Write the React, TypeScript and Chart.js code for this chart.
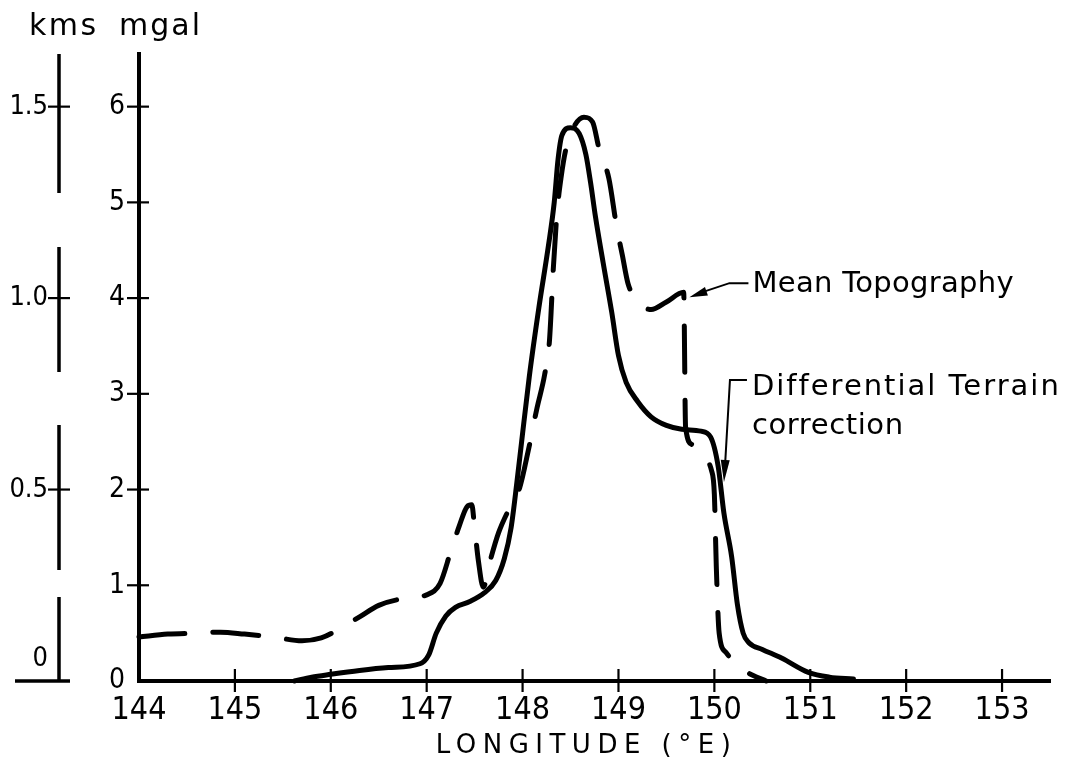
import React, { useEffect, useRef } from "react";
import { Chart, registerables } from "chart.js";

Chart.register(...registerables);

// ---- tick values / labels ----
const LON_TICKS = [144, 145, 146, 147, 148, 149, 150, 151, 152, 153];
const MGAL_TICKS = [0, 1, 2, 3, 4, 5, 6];
const KMS_TICKS = [0, 0.5, 1.0, 1.5];
const KMS_TICK_LABELS = ["0", "0.5", "1.0", "1.5"];
const LON_MIN = 144;
const LON_MAX = 153.5;
const MGAL_MAX = 6.55;
const KMS_PER_MGAL = 0.25;

// ---- Differential Terrain correction (solid) ----
const DTC_LON = [
  145.62, 145.8, 146.0, 146.3, 146.6, 146.93, 147.02, 147.1, 147.2, 147.3,
  147.45, 147.6, 147.72, 147.81, 147.88, 147.94, 147.99, 148.07, 148.17, 148.27,
  148.33, 148.37, 148.41, 148.5, 148.59, 148.66, 148.71, 148.76, 148.84, 148.93,
  149.0, 149.08, 149.2, 149.34, 149.5, 149.66, 149.86, 149.96, 150.04, 150.1,
  150.18, 150.24, 150.3, 150.36, 150.5, 150.7, 150.98, 151.2, 151.45,
];
const DTC_MGAL = [
  0.0, 0.04, 0.07, 0.11, 0.14, 0.18, 0.27, 0.5, 0.68, 0.77,
  0.83, 0.92, 1.05, 1.28, 1.6, 2.07, 2.5, 3.18, 3.9, 4.55,
  5.0, 5.45, 5.7, 5.78, 5.72, 5.5, 5.2, 4.85, 4.37, 3.85,
  3.4, 3.12, 2.92, 2.76, 2.67, 2.63, 2.61, 2.55, 2.24, 1.75,
  1.3, 0.8, 0.5, 0.4, 0.33, 0.24, 0.09, 0.04, 0.02,
];

// ---- Mean Topography (dashed) ----
const TOPO_LON = [
  144.0, 144.3, 144.6, 144.85, 145.1, 145.4, 145.7, 145.9, 146.1, 146.3,
  146.5, 146.75, 147.0, 147.14, 147.25, 147.34, 147.42, 147.47, 147.5, 147.54,
  147.59, 147.66, 147.75, 147.86, 147.97, 148.06, 148.15, 148.23, 148.28, 148.32,
  148.36, 148.4, 148.45, 148.53, 148.64, 148.73, 148.8, 148.9, 148.98, 149.04,
  149.1, 149.2, 149.34, 149.5, 149.68, 149.7, 149.77, 149.88, 149.97, 150.0,
  150.02, 150.05, 150.12, 150.25, 150.4, 150.54,
];
const TOPO_MGAL = [
  0.46, 0.49, 0.5, 0.51, 0.49, 0.46, 0.42, 0.45, 0.55, 0.67,
  0.79, 0.86, 0.9, 1.02, 1.35, 1.62, 1.82, 1.84, 1.6, 1.25,
  0.98, 1.25, 1.55, 1.8, 2.02, 2.41, 2.85, 3.2, 3.55, 4.3,
  4.9, 5.25, 5.55, 5.78, 5.89, 5.84, 5.55, 5.25, 4.75, 4.45,
  4.15, 3.97, 3.88, 3.96, 4.06, 2.65, 2.47, 2.33, 2.2, 1.95,
  1.2, 0.5, 0.3, 0.15, 0.06, 0.0,
];

const KMS_AXIS_DASH = [139, 54, 125, 53, 145, 27, 83, 60];
const TICK_FONT = "'DejaVu Sans Condensed', 'DejaVu Sans', sans-serif";
const TEXT_FONT = "'DejaVu Sans', sans-serif";

function line(ctx: CanvasRenderingContext2D, x1: number, y1: number, x2: number, y2: number) {
  ctx.beginPath();
  ctx.moveTo(x1, y1);
  ctx.lineTo(x2, y2);
  ctx.stroke();
}

function arrowHead(ctx: CanvasRenderingContext2D, fx: number, fy: number, tx: number, ty: number, len: number, half: number) {
  const a = Math.atan2(ty - fy, tx - fx);
  const bx = tx - Math.cos(a) * len;
  const by = ty - Math.sin(a) * len;
  ctx.beginPath();
  ctx.moveTo(tx, ty);
  ctx.lineTo(bx + Math.sin(a) * half, by - Math.cos(a) * half);
  ctx.lineTo(bx - Math.sin(a) * half, by + Math.cos(a) * half);
  ctx.closePath();
  ctx.fill();
}

function text(ctx: any, s: string, x: number, y: number, size: number, spacing: number, align: CanvasTextAlign = "left") {
  ctx.font = `${size}px ${TEXT_FONT}`;
  ctx.letterSpacing = `${spacing}px`;
  ctx.textAlign = align;
  ctx.textBaseline = "alphabetic";
  ctx.fillText(s, x, y);
  ctx.letterSpacing = "0px";
}

const decorPlugin = {
  id: "decor",
  beforeDatasetsDraw(chart: any) {
    const { ctx, chartArea } = chart;
    const xs = chart.scales.x;
    const ys = chart.scales.y;
    const ks = chart.scales.kms;
    ctx.save();
    ctx.strokeStyle = "#000";
    ctx.lineCap = "butt";
    // broken kms axis
    const kx = ks.right;
    ctx.lineWidth = 3.5;
    ctx.setLineDash(KMS_AXIS_DASH);
    line(ctx, kx, chartArea.top, kx, ks.getPixelForValue(0));
    ctx.setLineDash([]);
    // kms ticks
    KMS_TICKS.forEach((v) => {
      const py = ks.getPixelForValue(v);
      if (v === 0) {
        ctx.lineWidth = 3.5;
        line(ctx, kx - 44, py, kx + 11, py);
      } else {
        ctx.lineWidth = 2.2;
        line(ctx, kx - 11, py, kx + 11, py);
      }
    });
    // mgal ticks
    ctx.lineWidth = 2.2;
    const mx = ys.right;
    MGAL_TICKS.forEach((v) => {
      if (v === 0) return;
      const py = ys.getPixelForValue(v);
      line(ctx, mx - 12, py, mx + 10, py);
    });
    // longitude ticks
    const by = xs.top;
    LON_TICKS.forEach((v) => {
      if (v === LON_MIN) return;
      const px = xs.getPixelForValue(v);
      line(ctx, px, by - 12, px, by + 11);
    });
    ctx.restore();
  },
  afterDatasetsDraw(chart: any) {
    const { ctx, chartArea } = chart;
    const xs = chart.scales.x;
    const ys = chart.scales.y;
    const ks = chart.scales.kms;
    ctx.save();
    ctx.fillStyle = "#000";
    ctx.strokeStyle = "#000";
    // unit headers
    text(ctx, "kms", ks.right - 30, 35, 30, 2.5);
    text(ctx, "mgal", ys.right - 20, 35, 30, 2);
    // x title
    text(ctx, "LONGITUDE (°E)", (chartArea.left + chartArea.right) / 2 - 8, 753, 26, 6.5, "center");

    // Mean Topography leader
    ctx.lineWidth = 2;
    const t1x = xs.getPixelForValue(149.74);
    const t1y = ys.getPixelForValue(4.01);
    ctx.beginPath();
    ctx.moveTo(t1x + 59, t1y - 14);
    ctx.lineTo(t1x + 40, t1y - 14);
    ctx.lineTo(t1x + 10, t1y - 4);
    ctx.stroke();
    arrowHead(ctx, t1x + 40, t1y - 14, t1x, t1y, 18, 4.5);
    text(ctx, "Mean Topography", t1x + 63, t1y - 5, 29, 0.3);

    // Differential Terrain correction leader
    const t2x = xs.getPixelForValue(150.1);
    const t2y = ys.getPixelForValue(2.08);
    ctx.beginPath();
    ctx.moveTo(t2x + 23, t2y - 102);
    ctx.lineTo(t2x + 6, t2y - 102);
    ctx.lineTo(t2x + 1, t2y - 15);
    ctx.stroke();
    arrowHead(ctx, t2x + 6, t2y - 102, t2x, t2y, 22, 4.5);
    text(ctx, "Differential Terrain", t2x + 28, t2y - 87, 29, 2.0);
    text(ctx, "correction", t2x + 28, t2y - 48, 29, 0.6);
    ctx.restore();
  },
};

export default function App() {
  const ref = useRef<HTMLCanvasElement>(null);
  useEffect(() => {
    if (!ref.current) return;
    Chart.defaults.color = "#000";
    const chart = new Chart(ref.current, {
      type: "line",
      data: {
        datasets: [
          {
            label: "Mean Topography",
            data: TOPO_LON.map((x, i) => ({ x, y: TOPO_MGAL[i] })),
            borderColor: "#000",
            borderWidth: 5,
            borderDash: [46, 28],
            borderCapStyle: "round",
            borderJoinStyle: "round",
            pointRadius: 0,
            cubicInterpolationMode: "monotone",
            clip: 10,
            yAxisID: "y",
          },
          {
            label: "Differential Terrain correction",
            data: DTC_LON.map((x, i) => ({ x, y: DTC_MGAL[i] })),
            borderColor: "#000",
            borderWidth: 5,
            borderCapStyle: "round",
            borderJoinStyle: "round",
            pointRadius: 0,
            cubicInterpolationMode: "monotone",
            clip: 10,
            yAxisID: "y",
          },
        ],
      },
      options: {
        responsive: false,
        animation: false,
        layout: { padding: { left: 0, top: 54, right: 22, bottom: 36 } },
        plugins: { legend: { display: false }, tooltip: { enabled: false }, title: { display: false } },
        scales: {
          x: {
            type: "linear",
            position: "bottom",
            min: LON_MIN,
            max: LON_MAX,
            afterBuildTicks: (s: any) => { s.ticks = LON_TICKS.map((v) => ({ value: v })); },
            afterFit: (s: any) => { s.height = 59; },
            grid: { display: false, drawTicks: false, tickLength: 0 },
            border: { display: true, color: "#000", width: 4 },
            ticks: {
              autoSkip: false,
              maxRotation: 0,
              padding: 10,
              color: "#000",
              font: { family: TICK_FONT, size: 32 },
              callback: (v: any) => String(v),
            },
          },
          y: {
            type: "linear",
            position: "left",
            weight: 0,
            min: 0,
            max: MGAL_MAX,
            afterBuildTicks: (s: any) => { s.ticks = MGAL_TICKS.map((v) => ({ value: v })); },
            afterFit: (s: any) => { s.width = 80; },
            grid: { display: false, drawTicks: false, tickLength: 0 },
            border: { display: true, color: "#000", width: 4 },
            ticks: {
              padding: 14,
              color: "#000",
              font: { family: TICK_FONT, size: 28 },
              callback: (v: any) => String(v),
            },
          },
          kms: {
            type: "linear",
            position: "left",
            weight: 1,
            min: 0,
            max: MGAL_MAX * KMS_PER_MGAL,
            afterBuildTicks: (s: any) => { s.ticks = KMS_TICKS.map((v) => ({ value: v })); },
            afterFit: (s: any) => { s.width = 59; },
            grid: { display: false, drawTicks: false, tickLength: 0 },
            border: { display: false },
            ticks: {
              padding: 11,
              color: "#000",
              font: { family: TICK_FONT, size: 27, lineHeight: 1.6 },
              callback: (_v: any, i: number) => (i === 0 ? [KMS_TICK_LABELS[0], ""] : KMS_TICK_LABELS[i]),
            },
          },
        },
      },
      plugins: [decorPlugin],
    } as any);
    return () => chart.destroy();
  }, []);
  return (
    <div style={{ position: "absolute", left: 0, top: 0, width: 1072, height: 776, background: "#fff" }}>
      <canvas ref={ref} width={1072} height={776} style={{ display: "block" }} />
    </div>
  );
}
